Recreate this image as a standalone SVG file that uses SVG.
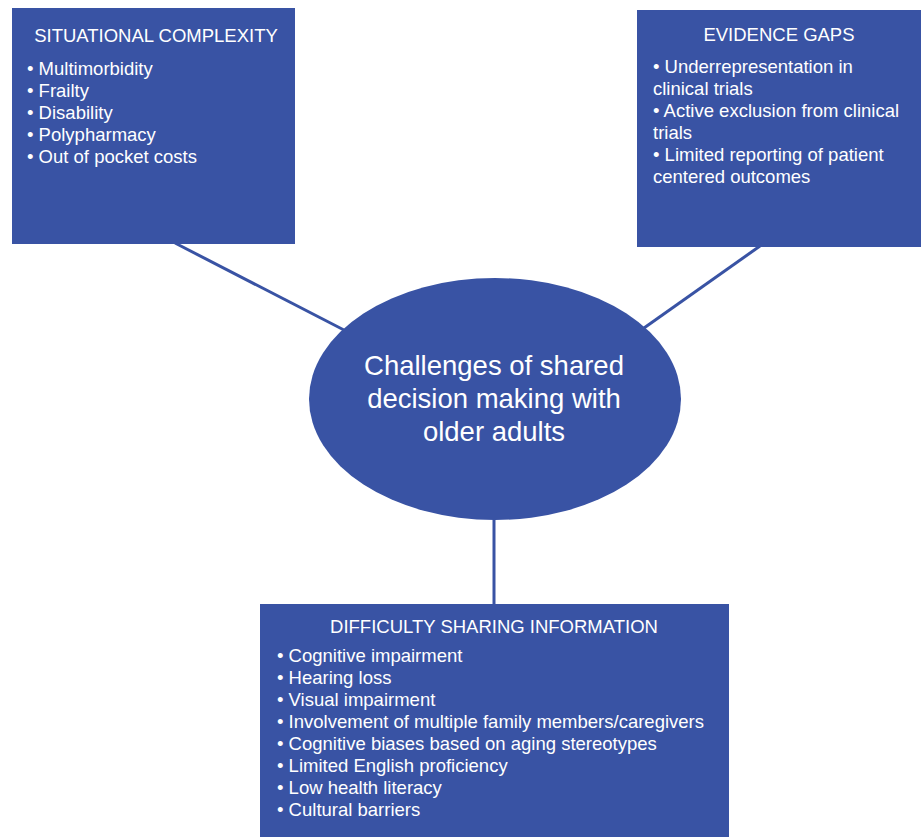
<svg xmlns="http://www.w3.org/2000/svg" width="922" height="837" viewBox="0 0 922 837">
<style>
.box{fill:#3953A4}
.t{font-family:"Liberation Sans",Arial,sans-serif;fill:#fff;font-size:18.5px}
.h{text-anchor:middle}
.c{font-size:27.5px;text-anchor:middle}
.ln{stroke:#3953A4;stroke-width:3;fill:none}
</style>
<rect width="922" height="837" fill="#fff"/>
<g id="connectors">
<line class="ln" x1="175" y1="243" x2="344" y2="330"/>
<line class="ln" x1="760" y1="246" x2="644" y2="328"/>
<line class="ln" x1="494" y1="518" x2="494" y2="606"/>
</g>
<g id="situational">
<rect class="box" x="12" y="8" width="283" height="236"/>
<text class="t h" x="156" y="42">SITUATIONAL COMPLEXITY</text>
<text class="t" x="27" y="75">• Multimorbidity</text>
<text class="t" x="27" y="97">• Frailty</text>
<text class="t" x="27" y="119">• Disability</text>
<text class="t" x="27" y="141">• Polypharmacy</text>
<text class="t" x="27" y="163">• Out of pocket costs</text>
</g>
<g id="evidence">
<rect class="box" x="637" y="10" width="284" height="237"/>
<text class="t h" x="779" y="41">EVIDENCE GAPS</text>
<text class="t" x="653" y="73">• Underrepresentation in</text>
<text class="t" x="653" y="95">clinical trials</text>
<text class="t" x="653" y="117">• Active exclusion from clinical</text>
<text class="t" x="653" y="139">trials</text>
<text class="t" x="653" y="161">• Limited reporting of patient</text>
<text class="t" x="653" y="183">centered outcomes</text>
</g>
<g id="center">
<ellipse class="box" cx="495" cy="399" rx="186" ry="121"/>
<text class="t c" x="494" y="375">Challenges of shared</text>
<text class="t c" x="494" y="408">decision making with</text>
<text class="t c" x="494" y="441">older adults</text>
</g>
<g id="difficulty">
<rect class="box" x="260" y="604" width="469" height="233"/>
<text class="t h" x="494" y="633">DIFFICULTY SHARING INFORMATION</text>
<text class="t" x="277" y="662">• Cognitive impairment</text>
<text class="t" x="277" y="684">• Hearing loss</text>
<text class="t" x="277" y="706">• Visual impairment</text>
<text class="t" x="277" y="728">• Involvement of multiple family members/caregivers</text>
<text class="t" x="277" y="750">• Cognitive biases based on aging stereotypes</text>
<text class="t" x="277" y="772">• Limited English proficiency</text>
<text class="t" x="277" y="794">• Low health literacy</text>
<text class="t" x="277" y="816">• Cultural barriers</text>
</g>
</svg>
